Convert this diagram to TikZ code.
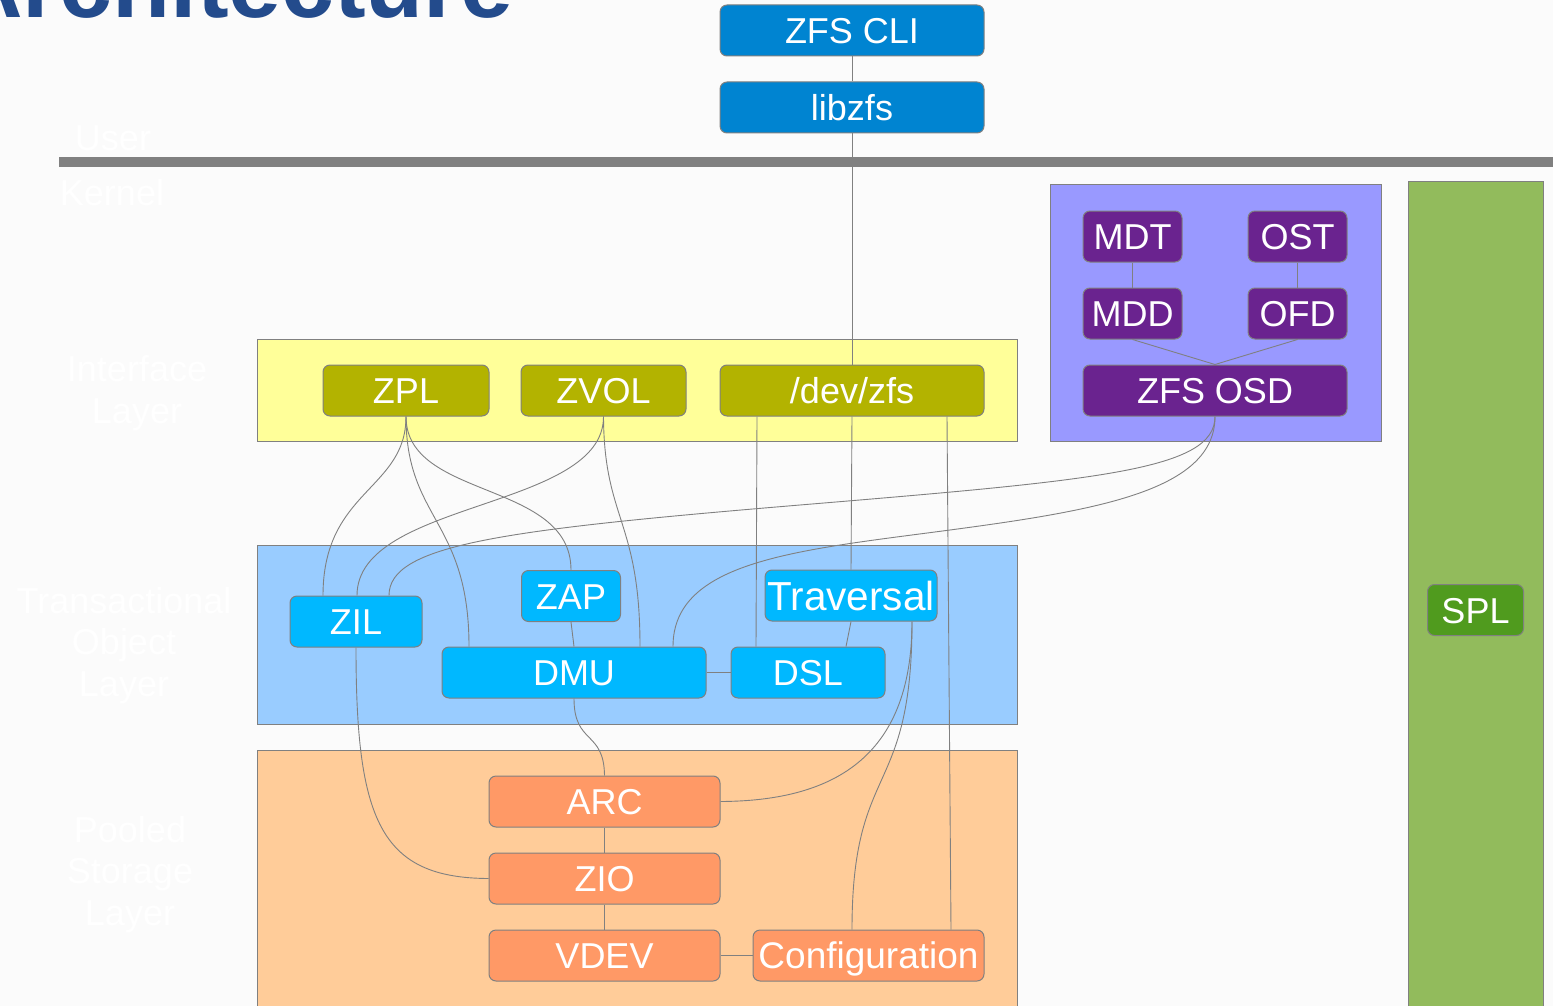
\documentclass[tikz,border=0pt]{standalone}
\usepackage{fontspec}
\setmainfont{Liberation Sans}
\definecolor{bg}{RGB}{251,251,251}
\definecolor{edge}{RGB}{128,128,128}
\definecolor{cliblue}{RGB}{0,132,209}
\definecolor{ifbg}{RGB}{255,255,153}
\definecolor{olivebox}{RGB}{179,179,0}
\definecolor{tolbg}{RGB}{153,204,255}
\definecolor{tolnode}{RGB}{0,184,255}
\definecolor{poolbg}{RGB}{255,204,153}
\definecolor{poolnode}{RGB}{255,153,102}
\definecolor{lubg}{RGB}{153,153,255}
\definecolor{lunode}{RGB}{106,35,143}
\definecolor{splbg}{RGB}{146,187,92}
\definecolor{splnode}{RGB}{80,155,30}
\definecolor{titleblue}{RGB}{35,75,140}
\tikzset{
  box/.style={draw=edge, line width=1pt, rounded corners=7pt, text=white, inner sep=0pt,
    font=\fontsize{36}{43}\selectfont, text height=26pt, text depth=0pt, minimum height=51pt},
  wire/.style={draw=edge, line width=0.9pt},
  layer/.style={draw=edge, line width=1pt},
  lbl/.style={text=white, font=\fontsize{36}{41.5}\selectfont, align=center, inner sep=0pt}
}
\begin{document}
\begin{tikzpicture}[x=1pt,y=-1pt]
\useasboundingbox (0,0) rectangle (1553,1006);
\fill[bg] (0,0) rectangle (1553,1006);
\clip (0,0) rectangle (1553,1006);

% title
\node[anchor=base west, inner sep=0pt, text=titleblue, font=\fontsize{95}{105}\selectfont\bfseries] (title) at (-46,18) {Architecture};

% user / kernel separator
\fill[edge] (59,157) rectangle (1553,167);
\node[lbl, anchor=base] (luser) at (113,150) {User};
\node[lbl, anchor=base] (lkernel) at (112,205) {Kernel};

% layer backgrounds
\filldraw[layer, fill=ifbg] (257,339) rectangle (1017,441);
\filldraw[layer, fill=tolbg] (257,545) rectangle (1017,724);
\filldraw[layer, fill=poolbg] (257,750) rectangle (1017,1012);
\filldraw[layer, fill=lubg] (1050,184) rectangle (1381,441);
\filldraw[layer, fill=splbg] (1408,181) rectangle (1543,1012);

% layer labels
\node[lbl, anchor=north] (lif) at (137,355.5) {Interface\\Layer};
\node[lbl, anchor=north] (ltol) at (124,587) {Transactional\\Object\\Layer};
\node[lbl, anchor=north] (lpool) at (130,816) {Pooled\\Storage\\Layer};

% user space
\node[box, fill=cliblue, minimum width=264pt] (cli) at (852,30.5) {ZFS CLI};
\node[box, fill=cliblue, minimum width=264pt] (libzfs) at (852,107.5) {libzfs};

% interface layer
\node[box, fill=olivebox, minimum width=166pt] (zpl) at (406,390.5) {ZPL};
\node[box, fill=olivebox, minimum width=165pt] (zvol) at (603.5,390.5) {ZVOL};
\node[box, fill=olivebox, minimum width=264pt] (devzfs) at (852,390.5) {/dev/zfs};

% lustre
\node[box, fill=lunode, minimum width=99pt] (mdt) at (1132.5,236.5) {MDT};
\node[box, fill=lunode, minimum width=99pt] (ost) at (1297.5,236.5) {OST};
\node[box, fill=lunode, minimum width=99pt] (mdd) at (1132.5,313.5) {MDD};
\node[box, fill=lunode, minimum width=99pt] (ofd) at (1297.5,313.5) {OFD};
\node[box, fill=lunode, minimum width=264pt] (zosd) at (1215,390.5) {ZFS OSD};

% SPL
\node[box, fill=splnode, minimum width=96pt] (spl) at (1475.5,610) {SPL};

% transactional object layer
\node[box, fill=tolnode, minimum width=132pt] (zil) at (356,621.5) {ZIL};
\node[box, fill=tolnode, minimum width=99pt] (zap) at (571,596) {ZAP};
\node[box, fill=tolnode, minimum width=172pt, font=\fontsize{40.5}{46}\selectfont, text height=29pt] (trav) at (851,595.5) {Traversal};
\node[box, fill=tolnode, minimum width=264pt] (dmu) at (574,672.5) {DMU};
\node[box, fill=tolnode, minimum width=154pt] (dsl) at (808,672.5) {DSL};

% pooled storage layer
\node[box, fill=poolnode, minimum width=231pt] (arc) at (604.5,801.5) {ARC};
\node[box, fill=poolnode, minimum width=231pt] (zio) at (604.5,878.5) {ZIO};
\node[box, fill=poolnode, minimum width=231pt] (vdev) at (604.5,955.5) {VDEV};
\node[box, fill=poolnode, minimum width=231pt, font=\fontsize{37}{44}\selectfont, text height=26.5pt] (config) at (868.5,955.5) {Configuration};

% straight connectors
\draw[wire] (cli) -- (libzfs);
\draw[wire] (libzfs) -- (devzfs);
\draw[wire] (devzfs.south) -- (trav.north);
\draw[wire] ([xshift=-95pt]devzfs.south) -- ([xshift=-52pt]dsl.north);
\draw[wire] ([xshift=95pt]devzfs.south) -- ([xshift=82.5pt]config.north);
\draw[wire] (trav.south) -- ([xshift=38pt]dsl.north);
\draw[wire] (zap.south) -- (dmu.north);
\draw[wire] (dmu) -- (dsl);
\draw[wire] (arc) -- (zio);
\draw[wire] (zio) -- (vdev);
\draw[wire] (vdev) -- (config);
\draw[wire] (mdt) -- (mdd);
\draw[wire] (ost) -- (ofd);
\draw[wire] (mdd.south) -- (zosd.north);
\draw[wire] (ofd.south) -- (zosd.north);

% curved connectors
\draw[wire] (zpl.south) .. controls (406,490) and (323,490) .. ([xshift=-33pt]zil.north);
\draw[wire] (zpl.south) .. controls (406,520) and (469,520) .. ([xshift=-105pt]dmu.north);
\draw[wire] (zpl.south) .. controls (406,500) and (571,480) .. (zap.north);
\draw[wire] (zvol.south) .. controls (604,510) and (357,500) .. ([xshift=1pt]zil.north);
\draw[wire] (zvol.south) .. controls (604,520) and (640,520) .. ([xshift=66pt]dmu.north);
\draw[wire] (zosd.south) .. controls (1215,470) and (1100,480) .. (800,505)
                         .. controls (500,530) and (389,545) .. ([xshift=33pt]zil.north);
\draw[wire] (zosd.south) .. controls (1215,490) and (1100,510) .. (950,530)
                         .. controls (800,550) and (673,560) .. ([xshift=99pt]dmu.north);
\draw[wire] (zil.south) .. controls (356,820) and (380,878) .. (zio.west);
\draw[wire] (dmu.south) .. controls (574,745) and (604,730) .. (arc.north);
\draw[wire] ([xshift=61pt]trav.south) .. controls (912,760) and (830,801) .. (arc.east);
\draw[wire] ([xshift=61pt]trav.south) .. controls (912,800) and (852,760) .. ([xshift=-16.5pt]config.north);
\end{tikzpicture}
\end{document}
